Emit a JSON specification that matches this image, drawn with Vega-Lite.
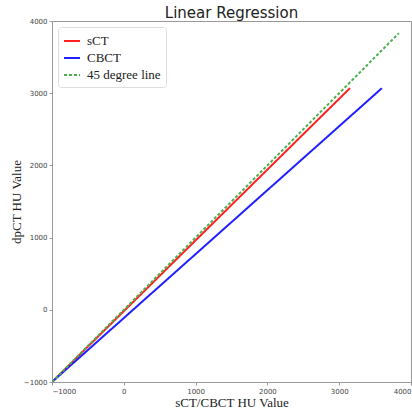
{
  "$schema": "https://vega.github.io/schema/vega-lite/v6.json",
  "autosize": "none",
  "width": 359,
  "height": 361,
  "padding": {"left": 52, "top": 21, "right": 1, "bottom": 27},
  "background": "white",
  "title": {"text": "Linear Regression", "font": "DejaVu Sans", "fontSize": 15, "fontWeight": "normal", "color": "#222", "offset": -4, "anchor": "middle"},
  "config": {
    "view": {"stroke": "#999", "strokeWidth": 1},
    "axis": {"grid": false, "domainColor": "#999", "tickColor": "#999", "labelFont": "DejaVu Sans", "labelFontSize": 7, "labelColor": "#444", "tickSize": 3, "titleFont": "Liberation Serif", "titleFontSize": 13, "titleFontWeight": "normal", "titleColor": "#222"}
  },
  "data": {"values": [
    {"series": "sCT", "x": -1000, "y": -1000},
    {"series": "sCT", "x": 3150, "y": 3070},
    {"series": "CBCT", "x": -1000, "y": -1000},
    {"series": "CBCT", "x": 3595, "y": 3070},
    {"series": "45 degree line", "x": -1000, "y": -1000},
    {"series": "45 degree line", "x": 3830, "y": 3830}
  ]},
  "mark": {"type": "line", "clip": true},
  "encoding": {
    "x": {"field": "x", "type": "quantitative", "scale": {"domain": [-1000, 4000], "nice": false, "zero": false}, "axis": {"values": [-1000, 0, 1000, 2000, 3000, 4000], "format": "d", "title": "sCT/CBCT HU Value", "titlePadding": 2}},
    "y": {"field": "y", "type": "quantitative", "scale": {"domain": [-1000, 4000], "nice": false, "zero": false}, "axis": {"values": [-1000, 0, 1000, 2000, 3000, 4000], "format": "d", "title": "dpCT HU Value", "titlePadding": 0}},
    "color": {"field": "series", "type": "nominal", "scale": {"domain": ["sCT", "CBCT", "45 degree line"], "range": ["#ff2020", "#2020ff", "#4cb04c"]},
      "legend": {"title": null, "orient": "none", "legendX": 6, "legendY": 6, "labelFont": "Liberation Serif", "labelFontSize": 13, "labelColor": "#222", "symbolType": "stroke", "symbolSize": 256, "symbolStrokeWidth": 1.5, "fillColor": "white", "strokeColor": "#ddd", "padding": 5, "cornerRadius": 3, "rowPadding": 1, "labelOffset": 6}},
    "strokeDash": {"field": "series", "type": "nominal", "scale": {"domain": ["sCT", "CBCT", "45 degree line"], "range": [[1, 0], [1, 0], [3, 2]]}},
    "strokeWidth": {"field": "series", "type": "nominal", "scale": {"domain": ["sCT", "CBCT", "45 degree line"], "range": [2, 2, 1]}, "legend": null}
  }
}
